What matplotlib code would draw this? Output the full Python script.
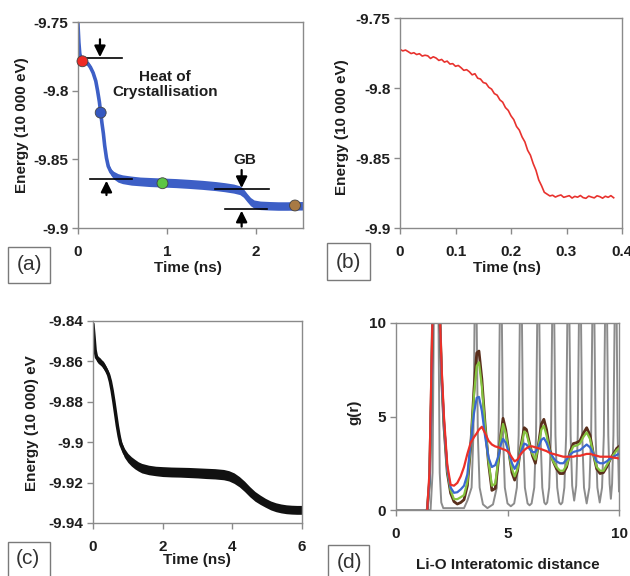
import matplotlib
matplotlib.use('Agg')
import matplotlib.pyplot as plt
from matplotlib.patches import Rectangle

plt.rcParams['font.family'] = ['Liberation Sans', 'DejaVu Sans']
plt.rcParams['axes.unicode_minus'] = False

# ---------------- Panel (a): energy vs time, full run ----------------
a_time = [0.00, 0.01, 0.02, 0.035, 0.05, 0.08, 0.11, 0.14, 0.17, 0.20, 0.22, 0.24, 0.255,
          0.27, 0.285, 0.30, 0.32, 0.34, 0.37, 0.40, 0.45, 0.50, 0.60, 0.70, 0.80, 0.95,
          1.10, 1.25, 1.40, 1.55, 1.65, 1.75, 1.82, 1.86, 1.90, 1.94, 1.98, 2.05, 2.15,
          2.25, 2.35, 2.45, 2.53]
a_energy = [-9.7520, -9.7650, -9.7730, -9.7770, -9.7785, -9.7793, -9.7802, -9.7830, -9.7870,
            -9.7930, -9.8000, -9.8080, -9.8160, -9.8240, -9.8310, -9.8400, -9.8490, -9.8550,
            -9.8592, -9.8615, -9.8635, -9.8645, -9.8655, -9.8661, -9.8665, -9.8669, -9.8673,
            -9.8679, -9.8686, -9.8695, -9.8703, -9.8713, -9.8725, -9.8745, -9.8778, -9.8808,
            -9.8826, -9.8835, -9.8838, -9.8840, -9.8840, -9.8839, -9.8838]
a_energy_hi = [-9.7515, -9.7640, -9.7718, -9.7755, -9.7770, -9.7778, -9.7786, -9.7814, -9.7855,
               -9.7915, -9.7985, -9.8065, -9.8145, -9.8225, -9.8295, -9.8385, -9.8473, -9.8530,
               -9.8568, -9.8587, -9.8604, -9.8613, -9.8622, -9.8629, -9.8632, -9.8636, -9.8640,
               -9.8646, -9.8653, -9.8662, -9.8670, -9.8680, -9.8693, -9.8714, -9.8748, -9.8778,
               -9.8796, -9.8804, -9.8807, -9.8809, -9.8809, -9.8808, -9.8807]
a_energy_lo = [-9.7525, -9.7660, -9.7742, -9.7785, -9.7800, -9.7808, -9.7818, -9.7846, -9.7885,
               -9.7945, -9.8015, -9.8095, -9.8175, -9.8255, -9.8325, -9.8415, -9.8507, -9.8570,
               -9.8616, -9.8643, -9.8666, -9.8677, -9.8688, -9.8693, -9.8698, -9.8702, -9.8706,
               -9.8712, -9.8719, -9.8728, -9.8736, -9.8746, -9.8757, -9.8776, -9.8808, -9.8838,
               -9.8856, -9.8866, -9.8869, -9.8871, -9.8871, -9.8870, -9.8869]
a_snap_time = [0.05, 0.255, 0.95, 2.44]
a_snap_energy = [-9.7786, -9.8160, -9.8674, -9.8836]
a_snap_colors = ['#ee2b26', '#3558c0', '#5cc644', '#a87a44']
# annotation levels (energy steps)
a_hc_top, a_hc_bot = -9.7764, -9.8644
a_gb_top, a_gb_bot = -9.8719, -9.8864
a_yticks = [-9.75, -9.8, -9.85, -9.9]
a_yticklabels = ['-9.75', '-9.8', '-9.85', '-9.9']
a_xticks = [0, 1, 2]
a_xticklabels = ['0', '1', '2']

# ---------------- Panel (b): zoom of crystallisation ----------------
b_time = [0.000, 0.005, 0.010, 0.015, 0.020, 0.025, 0.030, 0.035, 0.040, 0.045, 0.050, 0.055,
          0.060, 0.065, 0.070, 0.075, 0.080, 0.085, 0.090, 0.095, 0.100, 0.105, 0.110, 0.115,
          0.120, 0.125, 0.130, 0.135, 0.140, 0.145, 0.150, 0.155, 0.160, 0.165, 0.170, 0.175,
          0.180, 0.185, 0.190, 0.195, 0.200, 0.205, 0.210, 0.215, 0.220, 0.225, 0.230, 0.235,
          0.240, 0.245, 0.250, 0.255, 0.260, 0.265, 0.270, 0.275, 0.280, 0.285, 0.290, 0.295,
          0.300, 0.305, 0.310, 0.315, 0.320, 0.325, 0.330, 0.335, 0.340, 0.345, 0.350, 0.355,
          0.360, 0.365, 0.370, 0.375, 0.380, 0.385]
b_energy = [-9.7724, -9.7735, -9.7729, -9.7741, -9.7754, -9.7748, -9.7761, -9.7755, -9.7772,
            -9.7766, -9.7770, -9.7789, -9.7777, -9.7786, -9.7803, -9.7796, -9.7815, -9.7808,
            -9.7829, -9.7826, -9.7845, -9.7839, -9.7855, -9.7874, -9.7869, -9.7884, -9.7906,
            -9.7898, -9.7930, -9.7936, -9.7961, -9.7967, -9.7995, -9.8008, -9.8040, -9.8051,
            -9.8085, -9.8101, -9.8140, -9.8160, -9.8199, -9.8226, -9.8275, -9.8301, -9.8350,
            -9.8385, -9.8445, -9.8480, -9.8540, -9.8588, -9.8657, -9.8698, -9.8745, -9.8758,
            -9.8771, -9.8766, -9.8779, -9.8770, -9.8764, -9.8781, -9.8775, -9.8769, -9.8786,
            -9.8774, -9.8780, -9.8768, -9.8783, -9.8788, -9.8772, -9.8779, -9.8785, -9.8770,
            -9.8776, -9.8787, -9.8773, -9.8781, -9.8769, -9.8784]
b_xticks = [0, 0.1, 0.2, 0.3, 0.4]
b_xticklabels = ['0', '0.1', '0.2', '0.3', '0.4']

# ---------------- Panel (c): second run ----------------
c_time = [0.00, 0.03, 0.06, 0.10, 0.15, 0.20, 0.25, 0.30, 0.35, 0.40, 0.45, 0.50, 0.55, 0.60,
          0.65, 0.70, 0.75, 0.80, 0.90, 1.00, 1.10, 1.20, 1.30, 1.40, 1.60, 1.80, 2.00, 2.25,
          2.50, 2.75, 3.00, 3.25, 3.50, 3.75, 3.90, 4.05, 4.20, 4.35, 4.50, 4.65, 4.80, 4.95,
          5.10, 5.25, 5.40, 5.55, 5.70, 5.85, 6.00]
c_energy_hi = [-9.8410, -9.8468, -9.8528, -9.8563, -9.8575, -9.8582, -9.8592, -9.8600, -9.8615,
               -9.8632, -9.8652, -9.8685, -9.8731, -9.8786, -9.8846, -9.8905, -9.8953, -9.8990,
               -9.9030, -9.9055, -9.9072, -9.9085, -9.9097, -9.9105, -9.9114, -9.9119, -9.9121,
               -9.9123, -9.9124, -9.9125, -9.9127, -9.9129, -9.9131, -9.9135, -9.9141, -9.9152,
               -9.9170, -9.9193, -9.9220, -9.9244, -9.9262, -9.9278, -9.9291, -9.9300, -9.9306,
               -9.9310, -9.9312, -9.9313, -9.9313]
c_energy_lo = [-9.8430, -9.8492, -9.8560, -9.8598, -9.8610, -9.8617, -9.8625, -9.8637, -9.8650,
               -9.8665, -9.8685, -9.8716, -9.8760, -9.8815, -9.8875, -9.8935, -9.8987, -9.9030,
               -9.9075, -9.9100, -9.9118, -9.9132, -9.9143, -9.9152, -9.9161, -9.9166, -9.9170,
               -9.9172, -9.9173, -9.9175, -9.9177, -9.9180, -9.9182, -9.9186, -9.9192, -9.9204,
               -9.9221, -9.9244, -9.9270, -9.9292, -9.9308, -9.9322, -9.9335, -9.9344, -9.9350,
               -9.9354, -9.9356, -9.9357, -9.9357]
c_energy = [-9.8420, -9.8480, -9.8544, -9.8580, -9.8592, -9.8600, -9.8608, -9.8618, -9.8632,
            -9.8648, -9.8668, -9.8700, -9.8745, -9.8800, -9.8860, -9.8920, -9.8970, -9.9010,
            -9.9052, -9.9078, -9.9095, -9.9108, -9.9120, -9.9128, -9.9137, -9.9142, -9.9145,
            -9.9147, -9.9148, -9.9150, -9.9152, -9.9154, -9.9156, -9.9160, -9.9166, -9.9178,
            -9.9195, -9.9218, -9.9245, -9.9268, -9.9285, -9.9300, -9.9313, -9.9322, -9.9328,
            -9.9332, -9.9334, -9.9335, -9.9335]
c_yticks = [-9.84, -9.86, -9.88, -9.90, -9.92, -9.94]
c_yticklabels = ['-9.84', '-9.86', '-9.88', '-9.9', '-9.92', '-9.94']
c_xticks = [0, 2, 4, 6]
c_xticklabels = ['0', '2', '4', '6']

# ---------------- Panel (d): Li-O radial distribution ----------------
d_cryst_r = [0.00, 1.55, 1.64, 1.70, 1.90, 1.96, 2.03, 2.12, 3.05, 3.20,
             3.39, 3.47, 3.53, 3.61, 3.67, 3.75, 3.90, 4.10, 4.35,
             4.52, 4.60, 4.66, 4.74, 4.80, 4.88, 5.00, 5.15, 5.30,
             5.42, 5.50, 5.56, 5.64, 5.70, 5.78, 5.90, 5.99, 6.08,
             6.20, 6.28, 6.34, 6.42, 6.48, 6.56, 6.65, 6.715, 6.78,
             6.87, 6.95, 7.01, 7.09, 7.15, 7.23, 7.32, 7.39, 7.46,
             7.55, 7.63, 7.69, 7.77, 7.83, 7.90, 7.99,
             8.08, 8.15, 8.21, 8.29, 8.35, 8.43, 8.55,
             8.67, 8.75, 8.81, 8.89, 8.95, 9.03, 9.135,
             9.24, 9.32, 9.38, 9.46, 9.52, 9.58, 9.635,
             9.69, 9.75, 9.81, 9.89, 9.94, 10.0]
d_cryst_g = [0.0, 0.0, 2.0, 11, 11, 2.0, 0.4, 0.1, 0.1, 0.5,
             1.2, 4.0, 11, 11, 4.0, 1.2, 0.3, 0.1, 0.3,
             1.2, 4.0, 11, 11, 4.0, 1.2, 0.35, 0.2, 0.35,
             1.2, 4.0, 11, 11, 4.0, 1.2, 0.35, 0.25, 0.35,
             1.2, 4.0, 11, 11, 4.0, 1.2, 0.4, 0.3, 0.4,
             1.2, 4.0, 11, 11, 4.0, 1.2, 0.4, 0.3, 0.4,
             1.2, 4.0, 11, 11, 4.0, 1.3, 0.5,
             1.3, 4.0, 11, 11, 4.0, 1.2, 0.35,
             1.2, 4.0, 11, 11, 4.0, 1.2, 0.4,
             1.2, 4.0, 11, 11, 4.0, 1.4, 0.6,
             1.4, 4.0, 11, 11, 4.0, 1.0]
d_r = [1.40, 1.50, 1.58, 1.65, 1.95, 2.05, 2.15, 2.30, 2.45, 2.60, 2.75, 2.90, 3.05, 3.20,
       3.35, 3.50, 3.62, 3.72, 3.85, 4.00, 4.15, 4.30, 4.45, 4.60, 4.70, 4.80, 4.92, 5.05,
       5.20, 5.32, 5.45, 5.60, 5.75, 5.85, 6.00, 6.12, 6.25, 6.40, 6.52, 6.63, 6.75, 6.90,
       7.05, 7.20, 7.35, 7.50, 7.65, 7.80, 7.95, 8.10, 8.25, 8.40, 8.55, 8.70, 8.85, 9.00,
       9.15, 9.30, 9.45, 9.60, 9.75, 9.90, 10.0]
d_g_brown = [0, 1.5, 6, 11, 11, 7, 4.5, 2.0, 0.9, 0.45, 0.32, 0.4, 0.55, 1.3,
             3.4, 6.5, 8.4, 8.5, 7.0, 4.5, 2.5, 1.05, 1.15, 2.7, 4.0, 4.9, 4.3, 3.2,
             2.0, 1.6, 2.1, 3.4, 4.4, 4.3, 3.5, 2.9, 2.5, 3.6, 4.6, 4.85, 4.3, 3.2,
             2.6, 2.2, 1.95, 1.95, 2.3, 3.1, 3.55, 3.6, 3.7, 4.1, 4.4, 4.0, 3.0, 2.2,
             1.95, 2.0, 2.3, 2.7, 3.0, 3.3, 3.4]
d_g_green = [0, 1.5, 6, 11, 11, 7, 4.6, 2.1, 1.05, 0.58, 0.58, 0.68, 0.8, 1.5,
             3.5, 6.2, 7.7, 7.9, 6.6, 4.4, 2.6, 1.3, 1.4, 2.8, 3.9, 4.6, 4.1, 3.1,
             2.2, 1.8, 2.2, 3.3, 4.2, 4.1, 3.4, 3.0, 2.7, 3.5, 4.3, 4.5, 4.0, 3.1,
             2.6, 2.3, 2.1, 2.1, 2.4, 3.0, 3.4, 3.45, 3.55, 3.9, 4.15, 3.8, 3.0, 2.3,
             2.1, 2.1, 2.4, 2.7, 2.95, 3.2, 3.3]
d_g_blue = [0, 1.5, 6, 11, 11, 7, 4.7, 2.2, 1.2, 0.92, 0.95, 1.1, 1.3, 1.9,
            3.6, 5.2, 6.0, 6.05, 5.3, 3.9, 2.8, 2.3, 2.4, 2.9, 3.5, 3.8, 3.6, 3.1,
            2.5, 2.2, 2.5, 3.1, 3.55, 3.5, 3.25, 3.1, 3.1, 3.4, 3.75, 3.85, 3.6, 3.1,
            2.8, 2.6, 2.5, 2.5, 2.7, 2.95, 3.1, 3.15, 3.2, 3.35, 3.5, 3.35, 3.0, 2.6,
            2.5, 2.5, 2.6, 2.75, 2.85, 2.95, 3.0]
d_g_red = [0, 2.0, 7, 11, 11, 7.5, 5.0, 2.4, 1.35, 1.3, 1.45, 1.8, 2.3, 3.0,
           3.6, 3.9, 4.1, 4.3, 4.45, 4.1, 3.7, 3.5, 3.4, 3.35, 3.3, 3.25, 3.2, 3.1,
           2.8, 2.6, 2.7, 3.0, 3.2, 3.3, 3.4, 3.4, 3.35, 3.3, 3.25, 3.2, 3.15, 3.05,
           3.0, 2.95, 2.9, 2.85, 2.85, 2.85, 2.85, 2.9, 2.9, 2.95, 3.0, 3.0, 2.95, 2.9,
           2.85, 2.85, 2.85, 2.85, 2.8, 2.78, 2.75]
d_ticks = [0, 5, 10]
d_ticklabels = ['0', '5', '10']

# ---------------- Figure ----------------
W, H = 630, 576
fig = plt.figure(figsize=(W / 100, H / 100), dpi=100)
fig.patch.set_facecolor('white')

FRAME = '#8a8a8a'
TXT = '#1e1e1e'
FS = 11


def ax_px(l, t, r, b):
    return fig.add_axes([l / W, 1 - b / H, (r - l) / W, (b - t) / H])


def style(ax, xt, xl, yt, yl):
    for s in ax.spines.values():
        s.set_color(FRAME)
        s.set_linewidth(1.0)
    ax.tick_params(direction='out', length=4, width=1, color=FRAME, labelcolor=TXT)
    ax.tick_params(axis='x', pad=8)
    ax.tick_params(axis='y', pad=3)
    ax.set_xticks(xt)
    ax.set_xticklabels(xl, fontweight='bold', fontsize=FS)
    ax.set_yticks(yt)
    ax.set_yticklabels(yl, fontweight='bold', fontsize=FS)


def panel_box(x0, y0, x1, y1, label, tx, ty):
    fig.patches.append(Rectangle((x0 / W, 1 - y1 / H), (x1 - x0) / W, (y1 - y0) / H,
                                 transform=fig.transFigure, fill=False,
                                 edgecolor='#7a7a7a', linewidth=1.0))
    fig.text(tx / W, 1 - ty / H, label, ha='center', va='center', fontsize=15,
             color='#333333')


# ---- (a)
axa = ax_px(78, 22, 303, 228)
axa.fill_between(a_time, a_energy_lo, a_energy_hi, color='#3d5fc6', linewidth=0, zorder=2)
axa.plot(a_time, a_energy, color='#3d5fc6', lw=2.6, zorder=2)
arr = dict(arrowstyle='-|>,head_length=0.6,head_width=0.3', color='black', lw=1.6,
           shrinkA=0, shrinkB=0, mutation_scale=11)
axa.plot([0.05, 0.49], [a_hc_top, a_hc_top], color='black', lw=1.2, zorder=3)
axa.annotate('', xy=(0.247, a_hc_top + 0.0008), xytext=(0.247, -9.7626), arrowprops=arr, zorder=4)
axa.plot([0.14, 0.61], [a_hc_bot, a_hc_bot], color='black', lw=1.2, zorder=3)
axa.annotate('', xy=(0.32, a_hc_bot - 0.0012), xytext=(0.32, -9.876), arrowprops=arr, zorder=4)
axa.plot([1.54, 2.15], [a_gb_top, a_gb_top], color='black', lw=1.2, zorder=3)
axa.annotate('', xy=(1.84, a_gb_top + 0.0010), xytext=(1.84, -9.8578), arrowprops=arr, zorder=4)
axa.plot([1.65, 2.12], [a_gb_bot, a_gb_bot], color='black', lw=1.2, zorder=3)
axa.annotate('', xy=(1.84, a_gb_bot - 0.0010), xytext=(1.84, -9.8990), arrowprops=arr,
             zorder=4, annotation_clip=False)
axa.scatter(a_snap_time, a_snap_energy, s=62, c=a_snap_colors, edgecolors='#444444',
            linewidths=0.6, zorder=5, clip_on=False)
axa.text(0.98, -9.7955, 'Heat of\nCrystallisation', ha='center', va='center',
         fontsize=FS, fontweight='bold', color=TXT, linespacing=1.1)
axa.text(1.88, -9.8505, 'GB', ha='center', va='center', fontsize=FS, fontweight='bold', color=TXT)
axa.set_xlim(0, 2.53)
axa.set_ylim(-9.9, -9.75)
style(axa, a_xticks, a_xticklabels, a_yticks, a_yticklabels)
axa.set_xlabel('Time (ns)', fontsize=FS, fontweight='bold', color=TXT)
axa.set_ylabel('Energy (10 000 eV)', fontsize=FS, fontweight='bold', color=TXT)
axa.xaxis.set_label_coords(0.489, -0.16)
axa.yaxis.set_label_coords(-0.218, 0.5)
panel_box(8, 247, 50, 283, '(a)', 29, 265)

# ---- (b)
axb = ax_px(400, 18, 622, 228)
axb.plot(b_time, b_energy, color='#e8322e', lw=1.2)
axb.set_xlim(0, 0.4)
axb.set_ylim(-9.9, -9.75)
style(axb, b_xticks, b_xticklabels, a_yticks, a_yticklabels)
axb.set_xlabel('Time (ns)', fontsize=FS, fontweight='bold', color=TXT)
axb.set_ylabel('Energy (10 000 eV)', fontsize=FS, fontweight='bold', color=TXT)
axb.xaxis.set_label_coords(0.48, -0.157)
axb.yaxis.set_label_coords(-0.23, 0.48)
panel_box(327, 243, 370, 280, '(b)', 348.5, 262)

# ---- (c)
axc = ax_px(93, 321, 302, 523)
axc.fill_between(c_time, c_energy_lo, c_energy_hi, color='#111111', linewidth=0)
axc.plot(c_time, c_energy, color='#111111', lw=2.5)
axc.set_xlim(0, 6)
axc.set_ylim(-9.94, -9.84)
style(axc, c_xticks, c_xticklabels, c_yticks, c_yticklabels)
axc.set_xlabel('Time (ns)', fontsize=FS, fontweight='bold', color=TXT)
axc.set_ylabel('Energy (10 000) eV', fontsize=FS, fontweight='bold', color=TXT)
axc.xaxis.set_label_coords(0.497, -0.149)
axc.yaxis.set_label_coords(-0.258, 0.495)
panel_box(8, 542, 50, 590, '(c)', 28, 558)

# ---- (d)
axd = ax_px(396, 323, 619, 510)
axd.plot(d_cryst_r, d_cryst_g, color='#8c8c8c', lw=1.4)
axd.plot(d_r, d_g_brown, color='#5a2f1c', lw=2.0)
axd.plot(d_r, d_g_green, color='#86c440', lw=1.6)
axd.plot(d_r, d_g_blue, color='#3a68d0', lw=1.6)
axd.plot(d_r, d_g_red, color='#ec3028', lw=1.6)
axd.set_xlim(0, 10)
axd.set_ylim(0, 10)
style(axd, d_ticks, d_ticklabels, d_ticks, d_ticklabels)
axd.set_xlabel('Li-O Interatomic distance', fontsize=FS, fontweight='bold', color=TXT)
axd.set_ylabel('g(r)', fontsize=FS, fontweight='bold', color=TXT)
axd.xaxis.set_label_coords(0.5, -0.257)
axd.yaxis.set_label_coords(-0.157, 0.525)
panel_box(328, 545, 369, 590, '(d)', 350, 562)

fig.savefig('out.png', dpi=100, facecolor='white')
